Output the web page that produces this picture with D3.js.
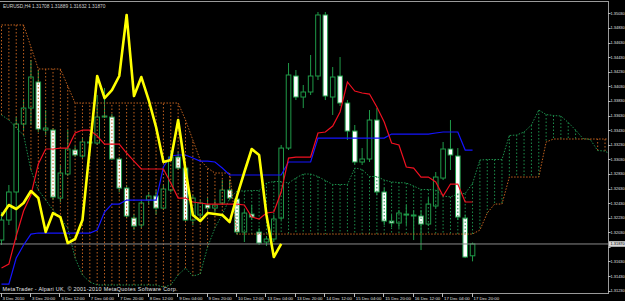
<!DOCTYPE html>
<html><head><meta charset="utf-8">
<script src="https://cdn.jsdelivr.net/npm/d3@7"></script>
<style>html,body{margin:0;padding:0;background:#000;overflow:hidden}</style>
</head><body>
<svg id="c" width="625" height="301"></svg>
<script>
// ---- data (EURUSD H4, bars from 3 Dec 2010 04:00) ----
const opens  = [1.31924,1.32198,1.32582,1.33513,1.33732,1.34089,1.33431,1.33431,1.32499,1.32828,
  1.33157,1.33075,1.33253,1.33253,1.33609,1.33609,1.33034,1.32636,1.32225,1.32130,
  1.32472,1.32527,1.32362,1.32609,1.33061,1.32910,1.32198,1.32267,1.32404,1.32362,
  1.32431,1.32609,1.32486,1.32034,1.32280,1.32034,1.31897,1.31938,1.32225,1.33184,
  1.34171,1.33883,1.33952,1.34171,1.35007,1.33883,1.34171,1.33801,1.33417,1.32993,
  1.33034,1.33568,1.32582,1.32184,1.32157,1.32280,1.32267,1.32253,1.32143,1.32390,
  1.32773,1.33171,1.33075,1.32225,1.31708];
const highs  = [1.32308,1.32678,1.33609,1.33842,1.34390,1.34253,1.33705,1.33458,1.32952,1.33431,
  1.33212,1.33321,1.33349,1.33911,1.34006,1.33650,1.33061,1.32678,1.32280,1.32472,
  1.32582,1.32609,1.32678,1.33157,1.33130,1.32952,1.32541,1.32472,1.32499,1.32472,
  1.32746,1.32746,1.32541,1.32335,1.32404,1.32088,1.31979,1.32267,1.33226,1.34349,
  1.34253,1.34048,1.34459,1.35048,1.35048,1.34294,1.34431,1.33842,1.33500,1.33184,
  1.33705,1.33732,1.32636,1.32267,1.32335,1.32404,1.32335,1.32335,1.32499,1.32856,
  1.33267,1.33568,1.33184,1.32267,1.31889];
const lows   = [1.31856,1.32130,1.31924,1.33431,1.33500,1.33404,1.33363,1.32472,1.32445,1.32801,
  1.33061,1.33047,1.33212,1.33226,1.33595,1.33020,1.32582,1.32225,1.32061,1.32088,
  1.32404,1.32267,1.32335,1.32582,1.32883,1.32171,1.32130,1.32171,1.32308,1.32308,
  1.32404,1.32472,1.31993,1.31897,1.32198,1.31856,1.31842,1.31897,1.32198,1.33157,
  1.33842,1.33732,1.33911,1.34116,1.33842,1.33637,1.33760,1.33294,1.32952,1.32952,
  1.32993,1.32541,1.32130,1.32102,1.32088,1.32130,1.31924,1.31787,1.32116,1.32362,
  1.32746,1.32883,1.32198,1.31677,1.31632];
const closes = [1.32198,1.32582,1.33513,1.33732,1.34157,1.33445,1.33458,1.32513,1.32842,1.33171,
  1.33089,1.33267,1.33267,1.33609,1.33623,1.33034,1.32636,1.32253,1.32116,1.32431,
  1.32527,1.32362,1.32623,1.33061,1.32910,1.32198,1.32499,1.32431,1.32362,1.32404,
  1.32609,1.32499,1.32034,1.32294,1.32239,1.31883,1.31938,1.32212,1.33184,1.34185,
  1.33883,1.33952,1.34171,1.35007,1.33897,1.34157,1.33801,1.33417,1.32993,1.33034,
  1.33568,1.32582,1.32184,1.32157,1.32294,1.32280,1.32267,1.32143,1.32417,1.32787,
  1.33171,1.33089,1.32239,1.31691,1.31870];

const tenkan = [1.31540,1.31595,1.31979,1.32321,1.32541,1.32965,1.33171,1.33171,1.33184,1.33184,
  1.33390,1.33431,1.33431,1.33349,1.33239,1.33239,1.33239,1.33116,1.33006,1.32897,
  1.32897,1.32897,1.32897,1.32705,1.32499,1.32499,1.32445,1.32431,1.32417,1.32417,
  1.32417,1.32417,1.32417,1.32404,1.32239,1.32212,1.32294,1.32308,1.32582,1.33047,
  1.33061,1.33061,1.33061,1.33390,1.33404,1.33486,1.33678,1.34089,1.33965,1.33938,
  1.33924,1.33746,1.33541,1.33253,1.33226,1.32924,1.32910,1.32787,1.32787,1.32719,
  1.32527,1.32691,1.32691,1.32445,1.32445];
const kijun = [1.31321,1.31321,1.31677,1.31856,1.32006,1.32020,1.32020,1.32020,1.32020,1.32020,
  1.32020,1.32020,1.32020,1.32061,1.32308,1.32417,1.32417,1.32472,1.32472,1.32472,
  1.32472,1.32472,1.32924,1.33075,1.33089,1.33089,1.33047,1.33006,1.33006,1.32993,
  1.32910,1.32815,1.32815,1.32815,1.32815,1.32815,1.32815,1.32815,1.32815,1.32993,
  1.32993,1.32993,1.32993,1.33321,1.33321,1.33321,1.33321,1.33321,1.33321,1.33321,
  1.33321,1.33321,1.33321,1.33376,1.33376,1.33376,1.33376,1.33376,1.33376,1.33390,
  1.33404,1.33404,1.33404,1.33157,1.33157];
const chikou = [1.32253,1.32404,1.32349,1.32431,1.32595,1.32499,1.32034,1.32294,1.32239,1.31883,
  1.31938,1.32198,1.33184,1.34171,1.33869,1.33979,1.34171,1.35007,1.33897,1.34157,
  1.33842,1.33472,1.32993,1.33020,1.33568,1.32883,1.32267,1.32184,1.32294,1.32280,
  1.32267,1.32171,1.32527,1.32856,1.33171,1.33089,1.32267,1.31691,1.31870];
const spanA = [1.33637,1.33568,1.33458,1.33363,1.32883,1.32609,1.32472,1.32335,1.32225,1.32088,
  1.31677,1.31445,1.31349,1.31308,1.31308,1.31308,1.31308,1.31308,1.31308,1.31308,
  1.31308,1.31308,1.31280,1.31308,1.31445,1.31540,1.31431,1.31458,1.31828,1.32089,
  1.32274,1.32493,1.32596,1.32596,1.32602,1.32602,1.32705,1.32726,1.32726,1.32705,
  1.32774,1.32828,1.32828,1.32794,1.32739,1.32685,1.32685,1.32685,1.32911,1.32890,
  1.32794,1.32794,1.32746,1.32719,1.32712,1.32705,1.32664,1.32616,1.32616,1.32610,
  1.32527,1.32514,1.32555,1.32562,1.32699,1.33020,1.33027,1.33027,1.33027,1.33356,
  1.33363,1.33404,1.33500,1.33705,1.33643,1.33630,1.33623,1.33534,1.33431,1.33315,
  1.33301,1.33150,1.33143,1.33082];
const spanB = [1.34870,1.34870,1.34870,1.34870,1.34568,1.34267,1.34267,1.34267,1.34267,1.34034,
  1.33801,1.33801,1.33801,1.33801,1.33801,1.33801,1.33801,1.33801,1.33801,1.33801,
  1.33801,1.33801,1.33801,1.33801,1.33801,1.33568,1.33294,1.33020,1.32910,1.32842,
  1.32842,1.32842,1.32006,1.32006,1.32006,1.32006,1.32006,1.32006,1.32006,1.32006,
  1.32006,1.32006,1.32006,1.32006,1.32006,1.32006,1.32006,1.32006,1.32006,1.32006,
  1.32006,1.32006,1.32006,1.32006,1.32006,1.32006,1.32006,1.32006,1.32006,1.32006,
  1.32006,1.32006,1.32006,1.32006,1.32006,1.32061,1.32294,1.32417,1.32417,1.32787,
  1.32787,1.32787,1.32787,1.32787,1.33267,1.33308,1.33308,1.33308,1.33308,1.33308,
  1.33308,1.33308,1.33308,1.33308];

const priceTicks = [1.35030,1.34830,1.34630,1.34430,1.34230,1.34030,1.33830,1.33630,1.33430,1.33230,
  1.33030,1.32830,1.32630,1.32430,1.32230,1.32030,1.31830,1.31630,1.31430,1.31230];
const timeLabels = ["3 Dec 2010","3 Dec 20:00","6 Dec 12:00","7 Dec 04:00","7 Dec 20:00","8 Dec 12:00",
  "9 Dec 04:00","9 Dec 20:00","10 Dec 12:00","13 Dec 04:00","13 Dec 20:00","14 Dec 12:00",
  "15 Dec 04:00","15 Dec 20:00","16 Dec 12:00","17 Dec 04:00","17 Dec 20:00"];
const labelEvery = 4;
const symbol = "EURUSD,H4";
const bid = 1.31870;
const copyright = "MetaTrader - Alpari UK, \u00a9 2001-2010 MetaQuotes Software Corp.";

// ---- layout ----
const W = 625, H = 301;
const plotR = 608, plotT = 1.5, plotB = 293;
const FONT = "Liberation Sans, Arial, sans-serif";
const svg = d3.select("#c");
svg.append("rect").attr("width",W).attr("height",H).attr("fill","#000");

const x = d3.scaleLinear().domain([0, 82]).range([1.5, 1.5 + 7.36*82]);
const y = d3.scaleLinear().domain([1.31230, 1.35030]).range([290.7, 13.3]);

svg.append("clipPath").attr("id","clip").append("rect")
  .attr("x",0).attr("y",plotT).attr("width",plotR).attr("height",plotB-plotT);
const g = svg.append("g").attr("clip-path","url(#clip)");

const GREEN = "#1f9a48", CLOUDG = "#1d8f4c", ORANGE = "#c2621f";

// candles
const n = closes.length;
const idx = d3.range(n);
g.append("g").selectAll("line").data(idx).join("line")
  .attr("x1",i=>x(i)).attr("x2",i=>x(i))
  .attr("y1",i=>y(highs[i])).attr("y2",i=>y(lows[i]))
  .attr("stroke",GREEN).attr("stroke-width",1);
g.append("g").selectAll("rect").data(idx).join("rect")
  .attr("x",i=>x(i)-2.3).attr("width",4.6)
  .attr("y",i=>y(Math.max(opens[i],closes[i])))
  .attr("height",i=>Math.max(1, Math.abs(y(opens[i])-y(closes[i]))))
  .attr("fill",i=>closes[i]>=opens[i] ? "#000" : "#fff")
  .attr("stroke",GREEN).attr("stroke-width",1);

// cloud hatch
const kumo = d3.range(spanA.length);
g.append("g").selectAll("line").data(kumo).join("line")
  .attr("x1",i=>x(i)).attr("x2",i=>x(i))
  .attr("y1",i=>y(spanA[i])).attr("y2",i=>y(spanB[i]))
  .attr("stroke",i=>spanA[i]>=spanB[i] ? CLOUDG : ORANGE)
  .attr("stroke-width",1).attr("stroke-dasharray","1.5,2");

const line = d3.line().x((d,i)=>x(i)).y(d=>y(d));
g.append("path").attr("d",line(spanA)).attr("fill","none")
  .attr("stroke",CLOUDG).attr("stroke-width",1).attr("stroke-dasharray","1.5,1.5");
g.append("path").attr("d",line(spanB)).attr("fill","none")
  .attr("stroke",ORANGE).attr("stroke-width",1).attr("stroke-dasharray","1.5,1.5");

// bid line
g.append("line").attr("x1",0).attr("x2",plotR).attr("y1",y(bid)).attr("y2",y(bid))
  .attr("stroke","#8a8a8a").attr("stroke-width",1);

g.append("path").attr("d",line(kijun)).attr("fill","none").attr("stroke","#1414ff").attr("stroke-width",1.2);
g.append("path").attr("d",line(tenkan)).attr("fill","none").attr("stroke","#f01020").attr("stroke-width",1.2);
g.append("path").attr("d",line(chikou)).attr("fill","none").attr("stroke","#ffff00").attr("stroke-width",2.6)
  .attr("stroke-linejoin","round");

// frame
svg.append("line").attr("x1",0).attr("x2",plotR).attr("y1",1.5).attr("y2",1.5).attr("stroke","#9a9a9a");
svg.append("line").attr("x1",plotR+0.5).attr("x2",plotR+0.5).attr("y1",1).attr("y2",plotB).attr("stroke","#9a9a9a");
svg.append("line").attr("x1",0).attr("x2",plotR+1).attr("y1",plotB+0.5).attr("y2",plotB+0.5).attr("stroke","#9a9a9a");

// price axis (the tick hidden under the bid label is not drawn, as in the terminal)
const shownTicks = priceTicks.filter(d => Math.abs(y(d)-y(bid)) > 5);
const ya = svg.append("g");
ya.selectAll("line").data(priceTicks).join("line")
  .attr("x1",plotR).attr("x2",plotR+2.5).attr("y1",d=>Math.round(y(d))+0.5).attr("y2",d=>Math.round(y(d))+0.5)
  .attr("stroke","#bbb");
ya.selectAll("text").data(shownTicks).join("text")
  .attr("x",plotR+2.6).attr("y",d=>y(d)+1.4)
  .attr("font-family",FONT).attr("font-size",3.9)
  .attr("fill","#e0e0e0").text(d=>d.toFixed(5));
// bid label
svg.append("rect").attr("x",plotR+1).attr("y",y(bid)-2.8).attr("width",16).attr("height",5.6).attr("fill","#d8d8d8");
svg.append("text").attr("x",plotR+2.6).attr("y",y(bid)+1.4)
  .attr("font-family",FONT).attr("font-size",3.9)
  .attr("fill","#000").text(bid.toFixed(5));

// time axis
const xa = svg.append("g");
xa.selectAll("line").data(timeLabels).join("line")
  .attr("x1",(d,i)=>Math.round(x(i*labelEvery))-0.5).attr("x2",(d,i)=>Math.round(x(i*labelEvery))-0.5)
  .attr("y1",plotB).attr("y2",plotB+4).attr("stroke","#bbb");
xa.selectAll("text").data(timeLabels).join("text")
  .attr("x",(d,i)=>Math.max(2, x(i*labelEvery)+1)).attr("y",299.5)
  .attr("font-family",FONT).attr("font-size",4.3)
  .attr("fill","#e0e0e0").text(d=>d);

// header & copyright
svg.append("text").attr("x",3).attr("y",8).attr("font-family",FONT)
  .attr("font-size",4.8).attr("fill","#d0d0d0")
  .text(symbol + "  " + [opens[n-1],highs[n-1],lows[n-1],closes[n-1]].map(v=>v.toFixed(5)).join(" "));
svg.append("text").attr("x",2.5).attr("y",291).attr("font-family",FONT)
  .attr("font-size",5.4).attr("fill","#e8e8e8").attr("textLength",175).text(copyright);
</script>
</body></html>
